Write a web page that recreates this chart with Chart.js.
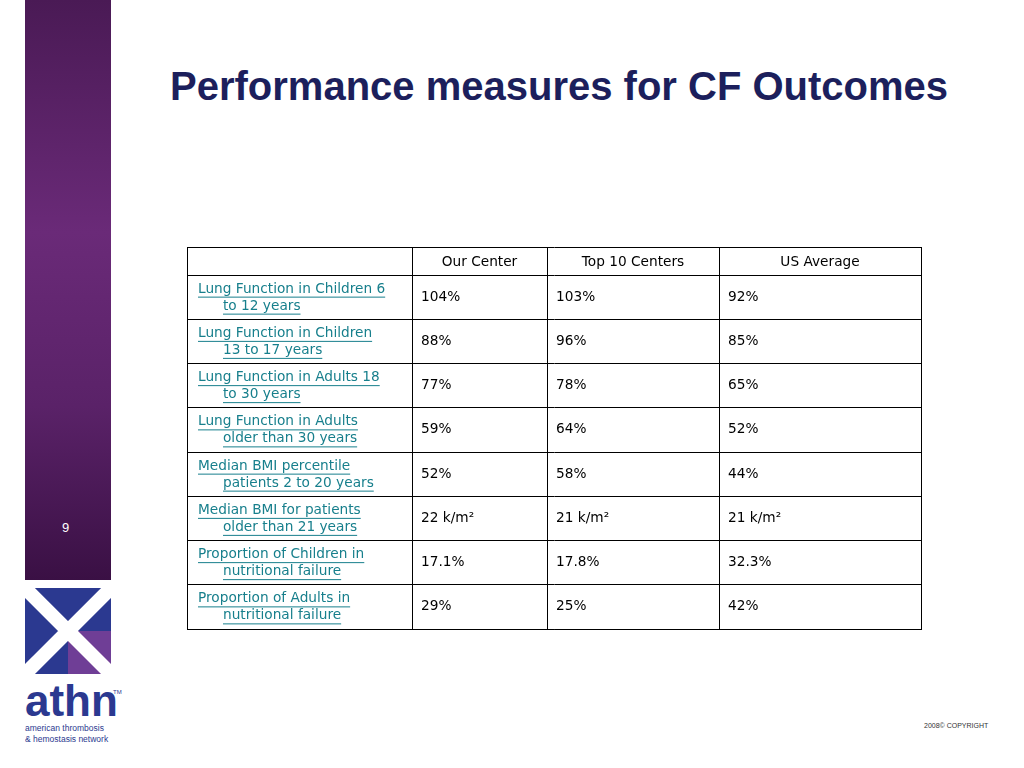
<!DOCTYPE html>
<html><head><meta charset="utf-8">
<script src="https://cdn.jsdelivr.net/npm/chart.js@4"></script>
<style>
body{margin:0;width:1024px;height:768px;background:#fff;position:relative;overflow:hidden;font-family:"Liberation Sans",Arial,sans-serif}
#bar{position:absolute;left:25px;top:0;width:86px;height:580px;background:linear-gradient(#4a1a55,#6a2a78 40%,#5a2268 70%,#3a1044)}
#num{position:absolute;left:62px;top:520px;color:#fff;font-size:13px}
#title{position:absolute;left:170px;top:64px;font-size:40px;font-weight:bold;color:#1c1f5c}
#copy{position:absolute;left:924px;top:722px;font-size:7px;color:#333}
#c{position:absolute;left:0;top:0}
</style></head><body>
<div id="bar"></div><div id="num">9</div>
<div id="title">Performance measures for CF Outcomes</div>
<svg style="position:absolute;left:25px;top:588px" width="100" height="160">
<rect x="0" y="0" width="86" height="86" fill="#2b3990"/>
<path d="M0 0 L86 86 M86 0 L0 86" stroke="#fff" stroke-width="14"/>
<rect x="43" y="43" width="43" height="43" fill="#7b3f98" opacity="0.85"/>
<path d="M43 43 L86 86" stroke="#fff" stroke-width="14"/>
<text x="0" y="128" font-family="Liberation Sans" font-size="44" font-weight="bold" fill="#2b3990">athn</text>
<text x="88" y="106" font-size="6" fill="#2b3990">TM</text>
<text x="0" y="143" font-size="8.5" fill="#2b3990">american thrombosis</text>
<text x="0" y="154" font-size="8.5" fill="#2b3990">&amp; hemostasis network</text>
</svg>
<div id="copy">2008© COPYRIGHT</div>
<canvas id="c" width="1024" height="768"></canvas>
<script>
const headers = ['', 'Our Center', 'Top 10 Centers', 'US Average'];
const rowLabels = [
  ['Lung Function in Children 6', 'to 12 years'],
  ['Lung Function in Children', '13 to 17 years'],
  ['Lung Function in Adults 18', 'to 30 years'],
  ['Lung Function in Adults', 'older than 30 years'],
  ['Median BMI percentile', 'patients 2 to 20 years'],
  ['Median BMI for patients', 'older than 21 years'],
  ['Proportion of Children in', 'nutritional failure'],
  ['Proportion of Adults in', 'nutritional failure']
];
const ourCenter = ['104%', '88%', '77%', '59%', '52%', '22 k/m²', '17.1%', '29%'];
const top10 = ['103%', '96%', '78%', '64%', '58%', '21 k/m²', '17.8%', '25%'];
const usAverage = ['92%', '85%', '65%', '52%', '44%', '21 k/m²', '32.3%', '42%'];
const colEdges = [0, 225, 360, 532, 734];
const headH = 0.633;
const rowEdges = [0, headH].concat(rowLabels.map((r, i) => headH + i + 1));

const cells = {
  id: 'cells',
  afterDraw(chart) {
    const {ctx, scales: {x, y}} = chart;
    ctx.save();
    ctx.font = '13.7px "DejaVu Sans"';
    ctx.fillStyle = '#000';
    ctx.textBaseline = 'middle';
    ctx.textAlign = 'center';
    const hy = y.getPixelForValue(headH / 2) + 1;
    headers.forEach((h, c) => {
      if (h) ctx.fillText(h, (x.getPixelForValue(colEdges[c]) + x.getPixelForValue(colEdges[c + 1])) / 2, hy);
    });
    ctx.textAlign = 'left';
    const cols = [ourCenter, top10, usAverage];
    rowLabels.forEach((lab, i) => {
      const cy = y.getPixelForValue(headH + i + 0.5);
      ctx.fillStyle = '#177f8c';
      ctx.strokeStyle = '#177f8c';
      ctx.lineWidth = 1;
      [[lab[0], 11, cy - 8], [lab[1], 36, cy + 9]].forEach(([t, dx, ty]) => {
        const lx = x.getPixelForValue(colEdges[0]) + dx;
        ctx.fillText(t, lx, ty);
        const w = ctx.measureText(t).width;
        ctx.beginPath(); ctx.moveTo(lx, ty + 8); ctx.lineTo(lx + w, ty + 8); ctx.stroke();
      });
      ctx.fillStyle = '#000';
      cols.forEach((arr, c) => ctx.fillText(arr[i], x.getPixelForValue(colEdges[c + 1]) + 9, cy));
    });
    ctx.restore();
  }
};

new Chart(document.getElementById('c'), {
  type: 'scatter',
  data: {datasets: [{data: []}]},
  plugins: [cells],
  options: {
    responsive: false, animation: false,
    layout: {padding: {left: 187, top: 247, right: 103, bottom: 139}},
    plugins: {legend: {display: false}, tooltip: {enabled: false}},
    scales: {
      x: {type: 'linear', min: 0, max: 734,
        afterBuildTicks: a => { a.ticks = colEdges.map(v => ({value: v})); },
        ticks: {display: false}, grid: {color: '#000', drawTicks: false}, border: {color: '#000'}},
      y: {type: 'linear', min: 0, max: headH + rowLabels.length, reverse: true,
        afterBuildTicks: a => { a.ticks = rowEdges.map(v => ({value: v})); },
        ticks: {display: false}, grid: {color: '#000', drawTicks: false}, border: {color: '#000'}}
    }
  }
});
</script></body></html>
